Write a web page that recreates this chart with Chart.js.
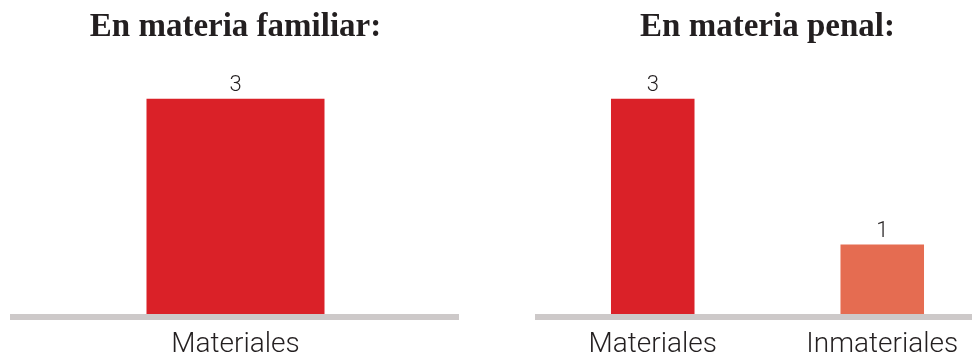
<!DOCTYPE html>
<html>
<head>
<meta charset="utf-8">
<script src="https://cdn.jsdelivr.net/npm/chart.js@4/dist/chart.umd.min.js"></script>
<style>
    html, body { margin: 0; padding: 0; background: #fff; }
    body { position: relative; width: 972px; height: 352px; overflow: hidden; }
    #familiar_chart { position: absolute; left: 0; top: 0; }
    #penal_chart { position: absolute; left: 486px; top: 0; }
</style>
</head>
<body>
<canvas id="familiar_chart" width="486" height="373"></canvas>
<canvas id="penal_chart" width="512" height="373"></canvas>
<script>
'use strict';
// data
var familiarTitle = 'En materia familiar:';
var familiarLabels = ['Materiales'];
var familiarValues = [3];

var penalTitle = 'En materia penal:';
var penalLabels = ['Materiales', 'Inmateriales'];
var penalValues = [3, 1];

var yMin = 0;
var yMax = 3;

var red = '#da2128';
var salmon = '#e56c51';
var familiarColors = [red];
var penalColors = [red, salmon];

(function () {
    var textColor = '#231f20';

    // writes the value above each bar
    var valueLabels = {
        id: 'valueLabels',
        afterDatasetsDraw: function (chart) {
            var ctx = chart.ctx;
            var meta = chart.getDatasetMeta(0);
            var values = chart.data.datasets[0].data;
            ctx.save();
            ctx.font = '300 22px Roboto';
            ctx.fillStyle = textColor;
            ctx.textAlign = 'center';
            ctx.textBaseline = 'bottom';
            for (let i = 0; i < meta.data.length; i++) {
                let bar = meta.data[i];
                ctx.fillText(String(values[i]), bar.x, bar.y - 2);
            }
            ctx.restore();
        }
    };

    function makeChart (canvasId, title, labels, values, colors, barPct, pad) {
        var ctx = document.getElementById(canvasId).getContext('2d');
        return new Chart(ctx, {
            type: 'bar',
            data: {
                labels: labels,
                datasets: [{
                    data: values,
                    backgroundColor: colors,
                    borderWidth: 0,
                    barPercentage: barPct,
                    categoryPercentage: 1
                }]
            },
            options: {
                responsive: false,
                animation: false,
                layout: {
                    padding: { left: pad.left, right: pad.right, top: 0, bottom: 0 }
                },
                plugins: {
                    legend: { display: false },
                    tooltip: { enabled: false },
                    title: {
                        display: true,
                        text: title,
                        color: textColor,
                        font: { family: '"Liberation Serif"', size: 33, weight: 'bold', lineHeight: 1.2 },
                        padding: { top: 8, bottom: 51 }
                    }
                },
                scales: {
                    x: {
                        grid: { display: false, drawTicks: false },
                        border: { display: true, width: 6, color: '#cdc9c9', z: 1 },
                        ticks: {
                            color: textColor,
                            padding: 11,
                            font: { family: 'Roboto', size: 28, weight: 300, lineHeight: 1.2 }
                        }
                    },
                    y: {
                        display: false,
                        min: yMin,
                        max: yMax
                    }
                }
            },
            plugins: [valueLabels]
        });
    }

    makeChart('familiar_chart', familiarTitle, familiarLabels, familiarValues, familiarColors, 0.4, { left: 13, right: 28 });
    makeChart('penal_chart', penalTitle, penalLabels, penalValues, penalColors, 0.364, { left: 52, right: 1 });
})();
</script>
</body>
</html>
